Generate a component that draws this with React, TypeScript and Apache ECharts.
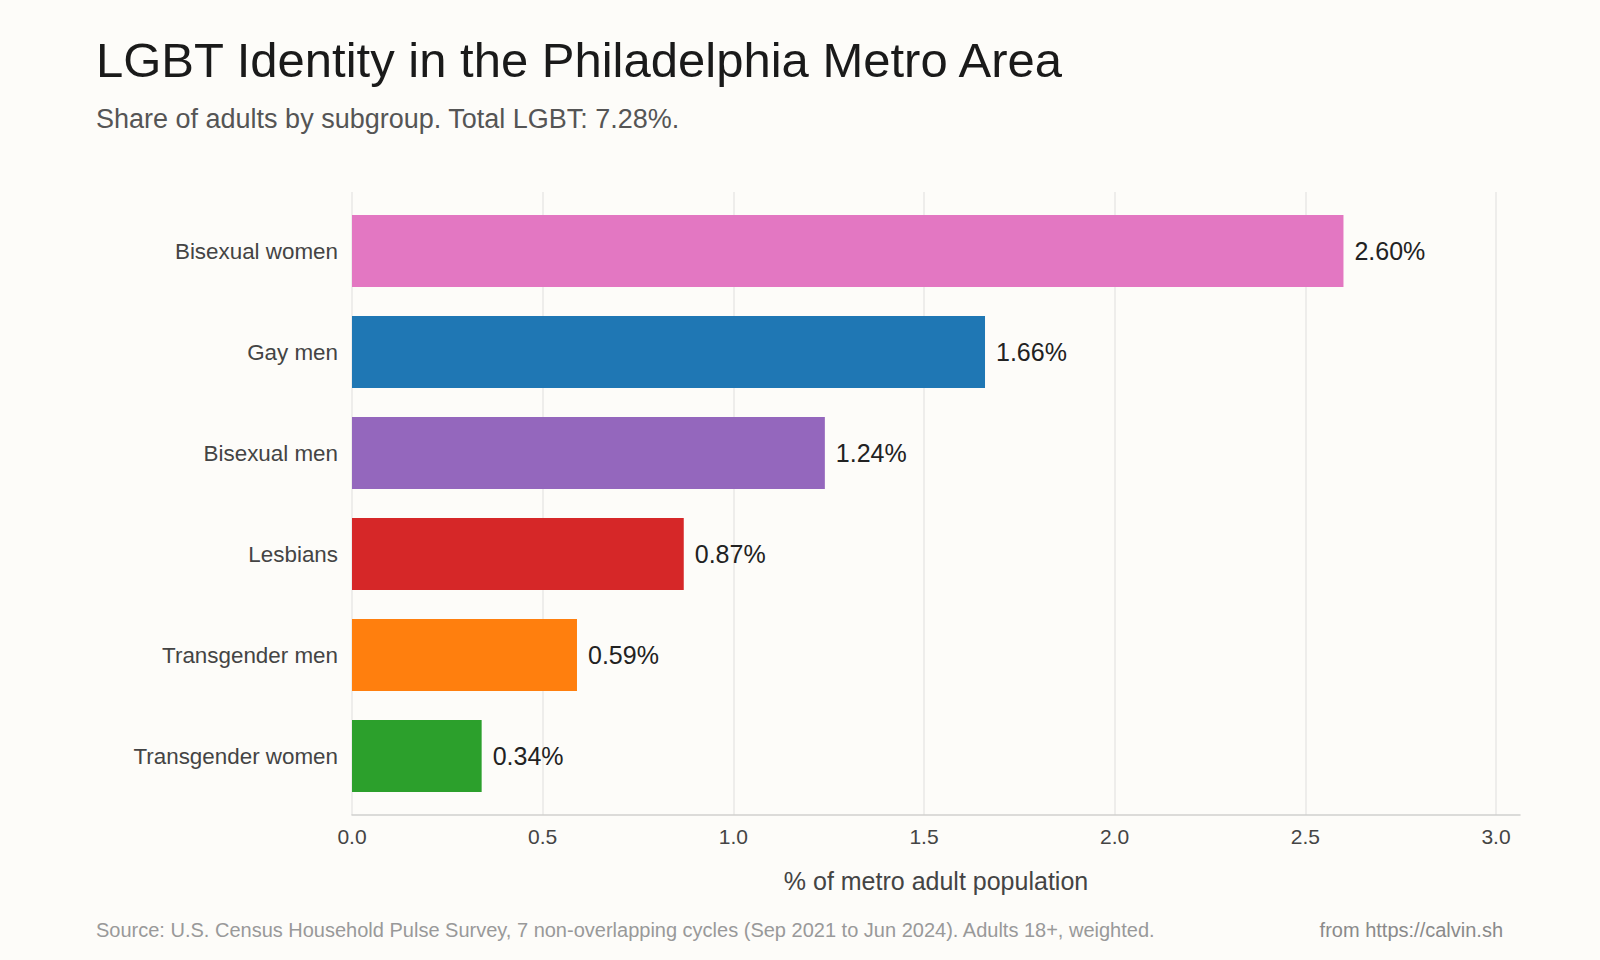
import React, { useEffect, useRef } from "react";
import * as echarts from "echarts";

const categories = [
  "Bisexual women",
  "Gay men",
  "Bisexual men",
  "Lesbians",
  "Transgender men",
  "Transgender women",
];
const shares = [2.6, 1.66, 1.24, 0.87, 0.59, 0.34];
const barColors = ["#e377c2", "#1f77b4", "#9467bd", "#d62728", "#ff7f0e", "#2ca02c"];

const titleText = "LGBT Identity in the Philadelphia Metro Area";
const subtitleText = "Share of adults by subgroup. Total LGBT: 7.28%.";
const axisTitle = "% of metro adult population";
const sourceText =
  "Source: U.S. Census Household Pulse Survey, 7 non-overlapping cycles (Sep 2021 to Jun 2024). Adults 18+, weighted.";
const creditText = "from https://calvin.sh";

const FONT = "'Liberation Sans', Arial, Helvetica, sans-serif";

export default function App() {
  const ref = useRef<HTMLDivElement>(null);

  useEffect(() => {
    document.body.style.margin = "0";
    if (!ref.current) return;
    const chart = echarts.init(ref.current, null, { renderer: "svg" });

    const option: any = {
      animation: false,
      backgroundColor: "#fdfcf9",
      textStyle: { fontFamily: FONT },
      title: [
        {
          text: titleText,
          left: 96,
          top: 35,
          padding: 0,
          textStyle: { fontSize: 49, fontWeight: "normal", color: "#1a1a1a", fontFamily: FONT },
        },
        {
          text: subtitleText,
          left: 96,
          top: 105,
          padding: 0,
          textStyle: { fontSize: 27, fontWeight: "normal", color: "#555555", fontFamily: FONT },
        },
      ],
      graphic: [
        {
          type: "text",
          left: 96,
          top: 920,
          style: { text: sourceText, fontSize: 20, fill: "#999999", fontFamily: FONT },
        },
        {
          type: "text",
          right: 97,
          top: 920,
          style: { text: creditText, fontSize: 20, fill: "#8a8a8a", fontFamily: FONT },
        },
      ],
      grid: [
        { left: 352, right: 104, top: 192, bottom: 145 },
        { left: 352, right: 80, top: 192, bottom: 145 },
        { left: 352, right: 104, top: 200.5, bottom: 153.5 },
      ],
      xAxis: [
        {
          gridIndex: 0,
          type: "value",
          min: 0,
          max: 3,
          interval: 0.5,
          axisLine: { show: false },
          axisTick: { show: false },
          splitLine: { show: true, lineStyle: { color: "#e8e8e6", width: 1.5 } },
          axisLabel: {
            margin: 11,
            fontSize: 21,
            color: "#444444",
            fontFamily: FONT,
            formatter: (v: number) => v.toFixed(1),
          },
        },
        {
          gridIndex: 1,
          type: "value",
          min: 0,
          max: 3.063,
          axisLine: { show: true, lineStyle: { color: "#d0d0ce", width: 1.5 } },
          axisTick: { show: false },
          splitLine: { show: false },
          axisLabel: { show: false },
          name: axisTitle,
          nameLocation: "middle",
          nameGap: 53,
          nameTextStyle: { fontSize: 25, color: "#444444", fontFamily: FONT },
        },
        {
          gridIndex: 2,
          type: "value",
          min: 0,
          max: 3,
          show: false,
        },
      ],
      yAxis: [
        { gridIndex: 0, type: "value", show: false },
        { gridIndex: 1, type: "value", show: false },
        {
          gridIndex: 2,
          type: "category",
          inverse: true,
          data: categories,
          axisLine: { show: false },
          axisTick: { show: false },
          splitLine: { show: false },
          axisLabel: { margin: 14, fontSize: 22.4, color: "#444444", fontFamily: FONT },
        },
      ],
      series: [
        {
          type: "bar",
          xAxisIndex: 2,
          yAxisIndex: 2,
          barCategoryGap: "28.7%",
          data: shares.map((v, i) => ({ value: v, itemStyle: { color: barColors[i] } })),
          label: {
            show: true,
            position: "right",
            distance: 11,
            fontSize: 25,
            color: "#222222",
            fontFamily: FONT,
            formatter: (p: any) => `${Number(p.value).toFixed(2)}%`,
          },
        },
      ],
    };

    chart.setOption(option);
    return () => chart.dispose();
  }, []);

  return (
    <div
      ref={ref}
      style={{ position: "fixed", left: 0, top: 0, width: 1600, height: 960 }}
    />
  );
}
